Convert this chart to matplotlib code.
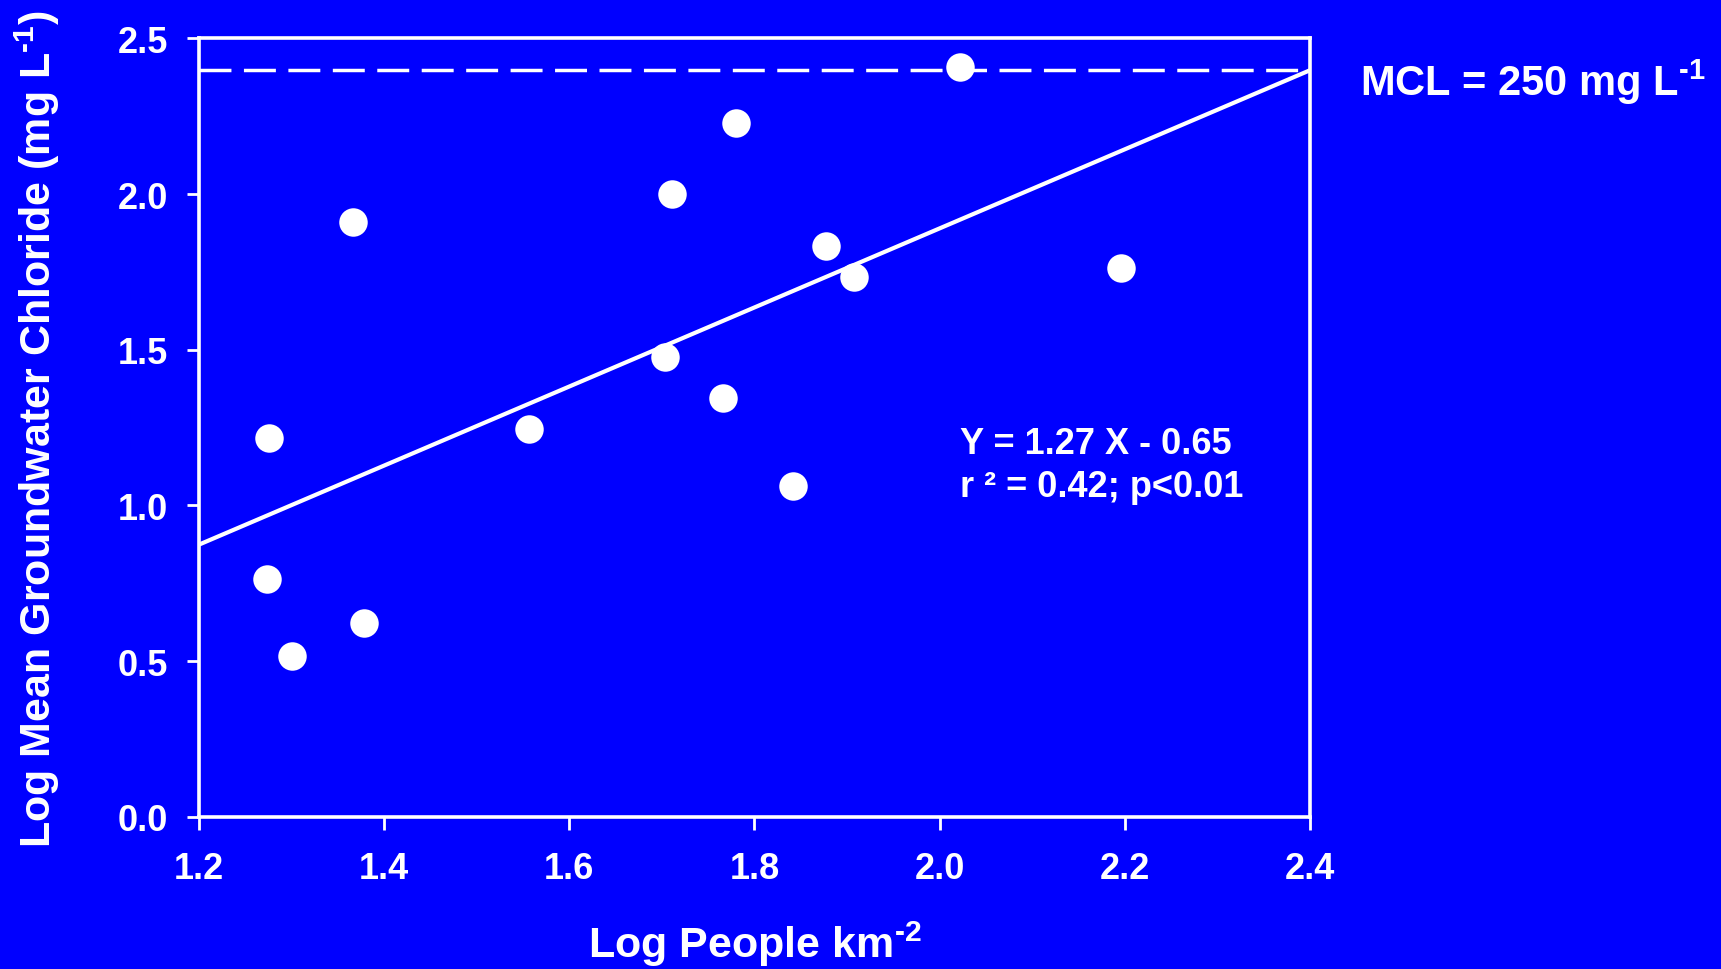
import numpy as np
import matplotlib
matplotlib.use("Agg")
import matplotlib.pyplot as plt

# Log people per km2 vs log mean groundwater chloride
log_density = [1.276, 1.273, 1.300, 1.366, 1.378, 1.557, 1.703, 1.711,
               1.766, 1.780, 1.842, 1.877, 1.907, 2.022, 2.196]
log_chloride = [1.218, 0.763, 0.516, 1.910, 0.621, 1.246, 1.476, 2.002,
                1.345, 2.228, 1.063, 1.833, 1.734, 2.408, 1.762]

slope = 1.27
intercept = -0.65
mcl_log = np.log10(250)

xticks = [1.2, 1.4, 1.6, 1.8, 2.0, 2.2, 2.4]
yticks = [0.0, 0.5, 1.0, 1.5, 2.0, 2.5]

bg = "#0000ff"
fg = "white"

plt.rcParams["font.family"] = ["Liberation Sans", "DejaVu Sans"]
plt.rcParams["font.weight"] = "bold"
plt.rcParams["mathtext.fontset"] = "custom"
plt.rcParams["mathtext.rm"] = "Liberation Sans:bold"
plt.rcParams["mathtext.it"] = "Liberation Sans:bold"
plt.rcParams["mathtext.bf"] = "Liberation Sans:bold"

fig = plt.figure(figsize=(17.21, 9.70), dpi=100, facecolor=bg)
ax = fig.add_axes([0.1156, 0.157, 0.6456, 0.8023], facecolor=bg)

# regression line and MCL
xl = np.array([1.2, 2.4])
ax.plot(xl, slope * xl + intercept, color=fg, lw=3, solid_capstyle="butt")
ax.plot(xl, [mcl_log, mcl_log], color=fg, lw=2.5, dashes=(9.2, 3.6))

ax.plot(log_density, log_chloride, "o", color=fg, markersize=20.5,
        markeredgewidth=0)

ax.set_xlim(1.2, 2.4)
ax.set_ylim(0, 2.5)
ax.set_xticks(xticks)
ax.set_xticklabels(["%.1f" % v for v in xticks])
ax.set_yticks(yticks)
ax.set_yticklabels(["%.1f" % v for v in yticks])

for s in ax.spines.values():
    s.set_color(fg)
    s.set_linewidth(2.6)
ax.tick_params(axis="both", colors=fg, direction="out", length=9, width=2,
               labelsize=26)
ax.tick_params(axis="x", pad=16, top=False)
ax.tick_params(axis="y", pad=13, right=False)

ax.set_xlabel(r"Log People km$^{\text{-2}}$", fontsize=31, color=fg,
              fontweight="bold", labelpad=23)
ax.set_ylabel(r"Log Mean Groundwater Chloride (mg L$^{\text{-1}}$)",
              fontsize=31, color=fg, fontweight="bold", labelpad=40)

ax.text(2.022, 1.03, "Y = 1.27 X - 0.65\nr ² = 0.42; p<0.01", color=fg,
        fontsize=26, fontweight="bold", ha="left", va="baseline",
        linespacing=1.3)

fig.text(1360 / 1721, 1 - 96 / 970, r"MCL = 250 mg L$^{\text{-1}}$", color=fg,
         fontsize=30, fontweight="bold", ha="left", va="baseline")

fig.savefig("out.png", dpi=100, facecolor=bg)
